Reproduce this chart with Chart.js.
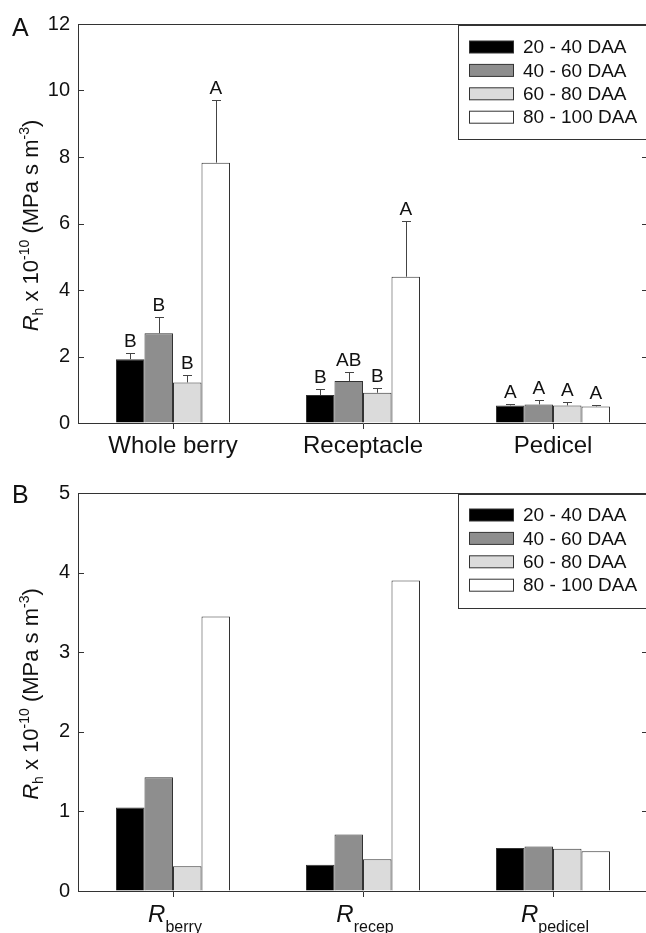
<!DOCTYPE html>
<html>
<head>
<meta charset="utf-8">
<script src="https://cdn.jsdelivr.net/npm/chart.js@4.4.1/dist/chart.umd.min.js"></script>
<style>
  body { margin: 0; background: #fff; }
  #wrap { width: 646px; height: 933px; overflow: hidden; }
  canvas { display: block; }
</style>
</head>
<body>
<div id="wrap">
  <canvas id="chartA" width="650" height="466"></canvas>
  <canvas id="chartB" width="650" height="467"></canvas>
</div>
<script>
const FONT = "'Liberation Sans', Arial, sans-serif";

const groupsA = ["Whole berry", "Receptacle", "Pedicel"];
const groupsB = ["berry", "recep", "pedicel"]; // subscripts of R
const periods = ["20 - 40 DAA", "40 - 60 DAA", "60 - 80 DAA", "80 - 100 DAA"];
const fills = ["#000000", "#8e8e8e", "#dbdbdb", "#ffffff"];

// panel A : means, standard errors, letters
const meanA_2040 = [1.92, 0.84, 0.53];
const meanA_4060 = [2.70, 1.26, 0.56];
const meanA_6080 = [1.22, 0.91, 0.53];
const meanA_80100 = [7.83, 4.40, 0.50];
const errA_2040 = [0.18, 0.17, 0.04];
const errA_4060 = [0.48, 0.27, 0.12];
const errA_6080 = [0.23, 0.14, 0.10];
const errA_80100 = [1.88, 1.68, 0.05];
const letA_2040 = ["B", "B", "A"];
const letA_4060 = ["B", "AB", "A"];
const letA_6080 = ["B", "B", "A"];
const letA_80100 = ["A", "A", "A"];

// panel B
const valB_2040 = [1.05, 0.33, 0.54];
const valB_4060 = [1.43, 0.71, 0.56];
const valB_6080 = [0.31, 0.40, 0.53];
const valB_80100 = [3.45, 3.90, 0.50];

// y axes
const yMaxA = 12, yStepA = 2;
const yMaxB = 5, yStepB = 1;

const meansA = [meanA_2040, meanA_4060, meanA_6080, meanA_80100];
const errsA = [errA_2040, errA_4060, errA_6080, errA_80100];
const lettersA = [letA_2040, letA_4060, letA_6080, letA_80100];
const valsB = [valB_2040, valB_4060, valB_6080, valB_80100];

// draws a list of text runs (with sub/superscripts) centred on x
function richText(ctx, runs, cx, y) {
  let total = 0;
  runs.forEach(r => { ctx.font = r.font; total += ctx.measureText(r.t).width; });
  let x = cx - total / 2;
  ctx.textAlign = "left";
  ctx.textBaseline = "alphabetic";
  runs.forEach(r => {
    ctx.font = r.font;
    ctx.fillText(r.t, x, y + (r.dy || 0));
    x += ctx.measureText(r.t).width;
  });
}

const yTitle = [
  { t: "R", font: "italic 22px " + FONT },
  { t: "h", font: "14px " + FONT, dy: 5 },
  { t: " x 10", font: "22px " + FONT },
  { t: "-10", font: "14px " + FONT, dy: -9 },
  { t: " (MPa s m", font: "22px " + FONT },
  { t: "-3", font: "14px " + FONT, dy: -9 },
  { t: ")", font: "22px " + FONT }
];

const framePlugin = {
  id: "frame",
  afterDraw(chart, args, opts) {
    const ctx = chart.ctx, a = chart.chartArea, y = chart.scales.y;
    ctx.save();
    ctx.strokeStyle = "#333";
    ctx.lineWidth = 1;
    ctx.beginPath();
    ctx.moveTo(a.left, a.top + 0.5);
    ctx.lineTo(a.right, a.top + 0.5);
    ctx.moveTo(a.right - 0.5, a.top);
    ctx.lineTo(a.right - 0.5, a.bottom);
    y.ticks.forEach(t => {
      const py = Math.round(y.getPixelForValue(t.value)) + 0.5;
      ctx.moveTo(a.left, py); ctx.lineTo(a.left + 6, py);
      ctx.moveTo(a.right - 6, py); ctx.lineTo(a.right, py);
    });
    ctx.stroke();

    // legend box
    const lx = 458, ly = a.top + 1, lh = 114;
    ctx.fillStyle = "#fff";
    ctx.fillRect(lx, ly, a.right - lx, lh);
    ctx.strokeRect(lx + 0.5, ly + 0.5, a.right - lx + 4, lh);
    periods.forEach((p, i) => {
      const cy = ly + opts.legendFirst + i * 23.4;
      ctx.fillStyle = fills[i];
      ctx.fillRect(469.5, cy - 6, 44, 12);
      ctx.strokeRect(469.5, cy - 6, 44, 12);
      ctx.fillStyle = "#111";
      ctx.font = "19px " + FONT;
      ctx.textAlign = "left";
      ctx.textBaseline = "middle";
      ctx.fillText(p, 523, cy + 1);
    });

    // panel letter
    ctx.fillStyle = "#111";
    ctx.font = "25px " + FONT;
    ctx.textAlign = "left";
    ctx.textBaseline = "alphabetic";
    ctx.fillText(opts.panel, 12, opts.panelY);

    // y title
    ctx.save();
    ctx.translate(37.5, (a.top + a.bottom) / 2 + 2);
    ctx.rotate(-Math.PI / 2);
    richText(ctx, yTitle, 0, 0);
    ctx.restore();

    // subscripted category labels (panel B)
    if (opts.subLabels) {
      const x = chart.scales.x;
      opts.subLabels.forEach((s, i) => {
        richText(ctx, [
          { t: "R", font: "italic 24px " + FONT },
          { t: s, font: "16px " + FONT, dy: 10 }
        ], x.getPixelForValue(i) + 2, a.bottom + 31);
      });
    }
    ctx.restore();
  }
};

const errorPlugin = {
  id: "errbars",
  afterDatasetsDraw(chart) {
    const ctx = chart.ctx, y = chart.scales.y;
    ctx.save();
    ctx.strokeStyle = "#444";
    ctx.lineWidth = 1;
    chart.data.datasets.forEach((ds, d) => {
      chart.getDatasetMeta(d).data.forEach((bar, i) => {
        const top = y.getPixelForValue(meansA[d][i] + errsA[d][i]);
        const bx = Math.round(bar.x) + 0.5;
        ctx.beginPath();
        ctx.moveTo(bx, bar.y);
        ctx.lineTo(bx, Math.round(top) + 0.5);
        ctx.moveTo(bx - 4.5, Math.round(top) + 0.5);
        ctx.lineTo(bx + 4.5, Math.round(top) + 0.5);
        ctx.stroke();
        ctx.fillStyle = "#111";
        ctx.font = "19px " + FONT;
        ctx.textAlign = "center";
        ctx.textBaseline = "alphabetic";
        ctx.fillText(lettersA[d][i], bar.x, top - 6);
      });
    });
    ctx.restore();
  }
};

function makeOptions(yMax, yStep, frameOpts) {
  const xTicks = { color: "#111", font: { family: FONT, size: 24 }, padding: 3, maxRotation: 0 };
  if (frameOpts.subLabels) xTicks.callback = () => "";
  return {
    responsive: false,
    animation: false,
    layout: { padding: { top: frameOpts.padTop, right: 2, left: 0, bottom: 0 } },
    plugins: { legend: { display: false }, tooltip: { enabled: false }, frame: frameOpts },
    scales: {
      x: {
        afterFit: s => { s.height = frameOpts.xHeight; },
        grid: { drawOnChartArea: false, offset: false, tickLength: 6, color: "#333" },
        border: { color: "#333", width: 1 },
        ticks: xTicks
      },
      y: {
        min: 0, max: yMax,
        afterFit: s => { s.width = 78; },
        grid: { drawOnChartArea: false, drawTicks: false },
        border: { color: "#333", width: 1 },
        ticks: { stepSize: yStep, color: "#111", font: { family: FONT, size: 20 }, padding: 8 }
      }
    }
  };
}

function makeSets(values) {
  return values.map((v, i) => ({
    label: periods[i],
    data: v,
    backgroundColor: fills[i],
    borderColor: "#333",
    borderWidth: 1,
    categoryPercentage: 0.6,
    barPercentage: 1.0
  }));
}

new Chart(document.getElementById("chartA"), {
  type: "bar",
  data: { labels: groupsA, datasets: makeSets(meansA) },
  options: makeOptions(yMaxA, yStepA, { panel: "A", panelY: 36, padTop: 24, xHeight: 43, legendFirst: 22 }),
  plugins: [errorPlugin, framePlugin]
});

new Chart(document.getElementById("chartB"), {
  type: "bar",
  data: { labels: groupsB, datasets: makeSets(valsB) },
  options: makeOptions(yMaxB, yStepB, { panel: "B", panelY: 37, padTop: 27, xHeight: 42, legendFirst: 21, subLabels: groupsB }),
  plugins: [framePlugin]
});
</script>
</body>
</html>
